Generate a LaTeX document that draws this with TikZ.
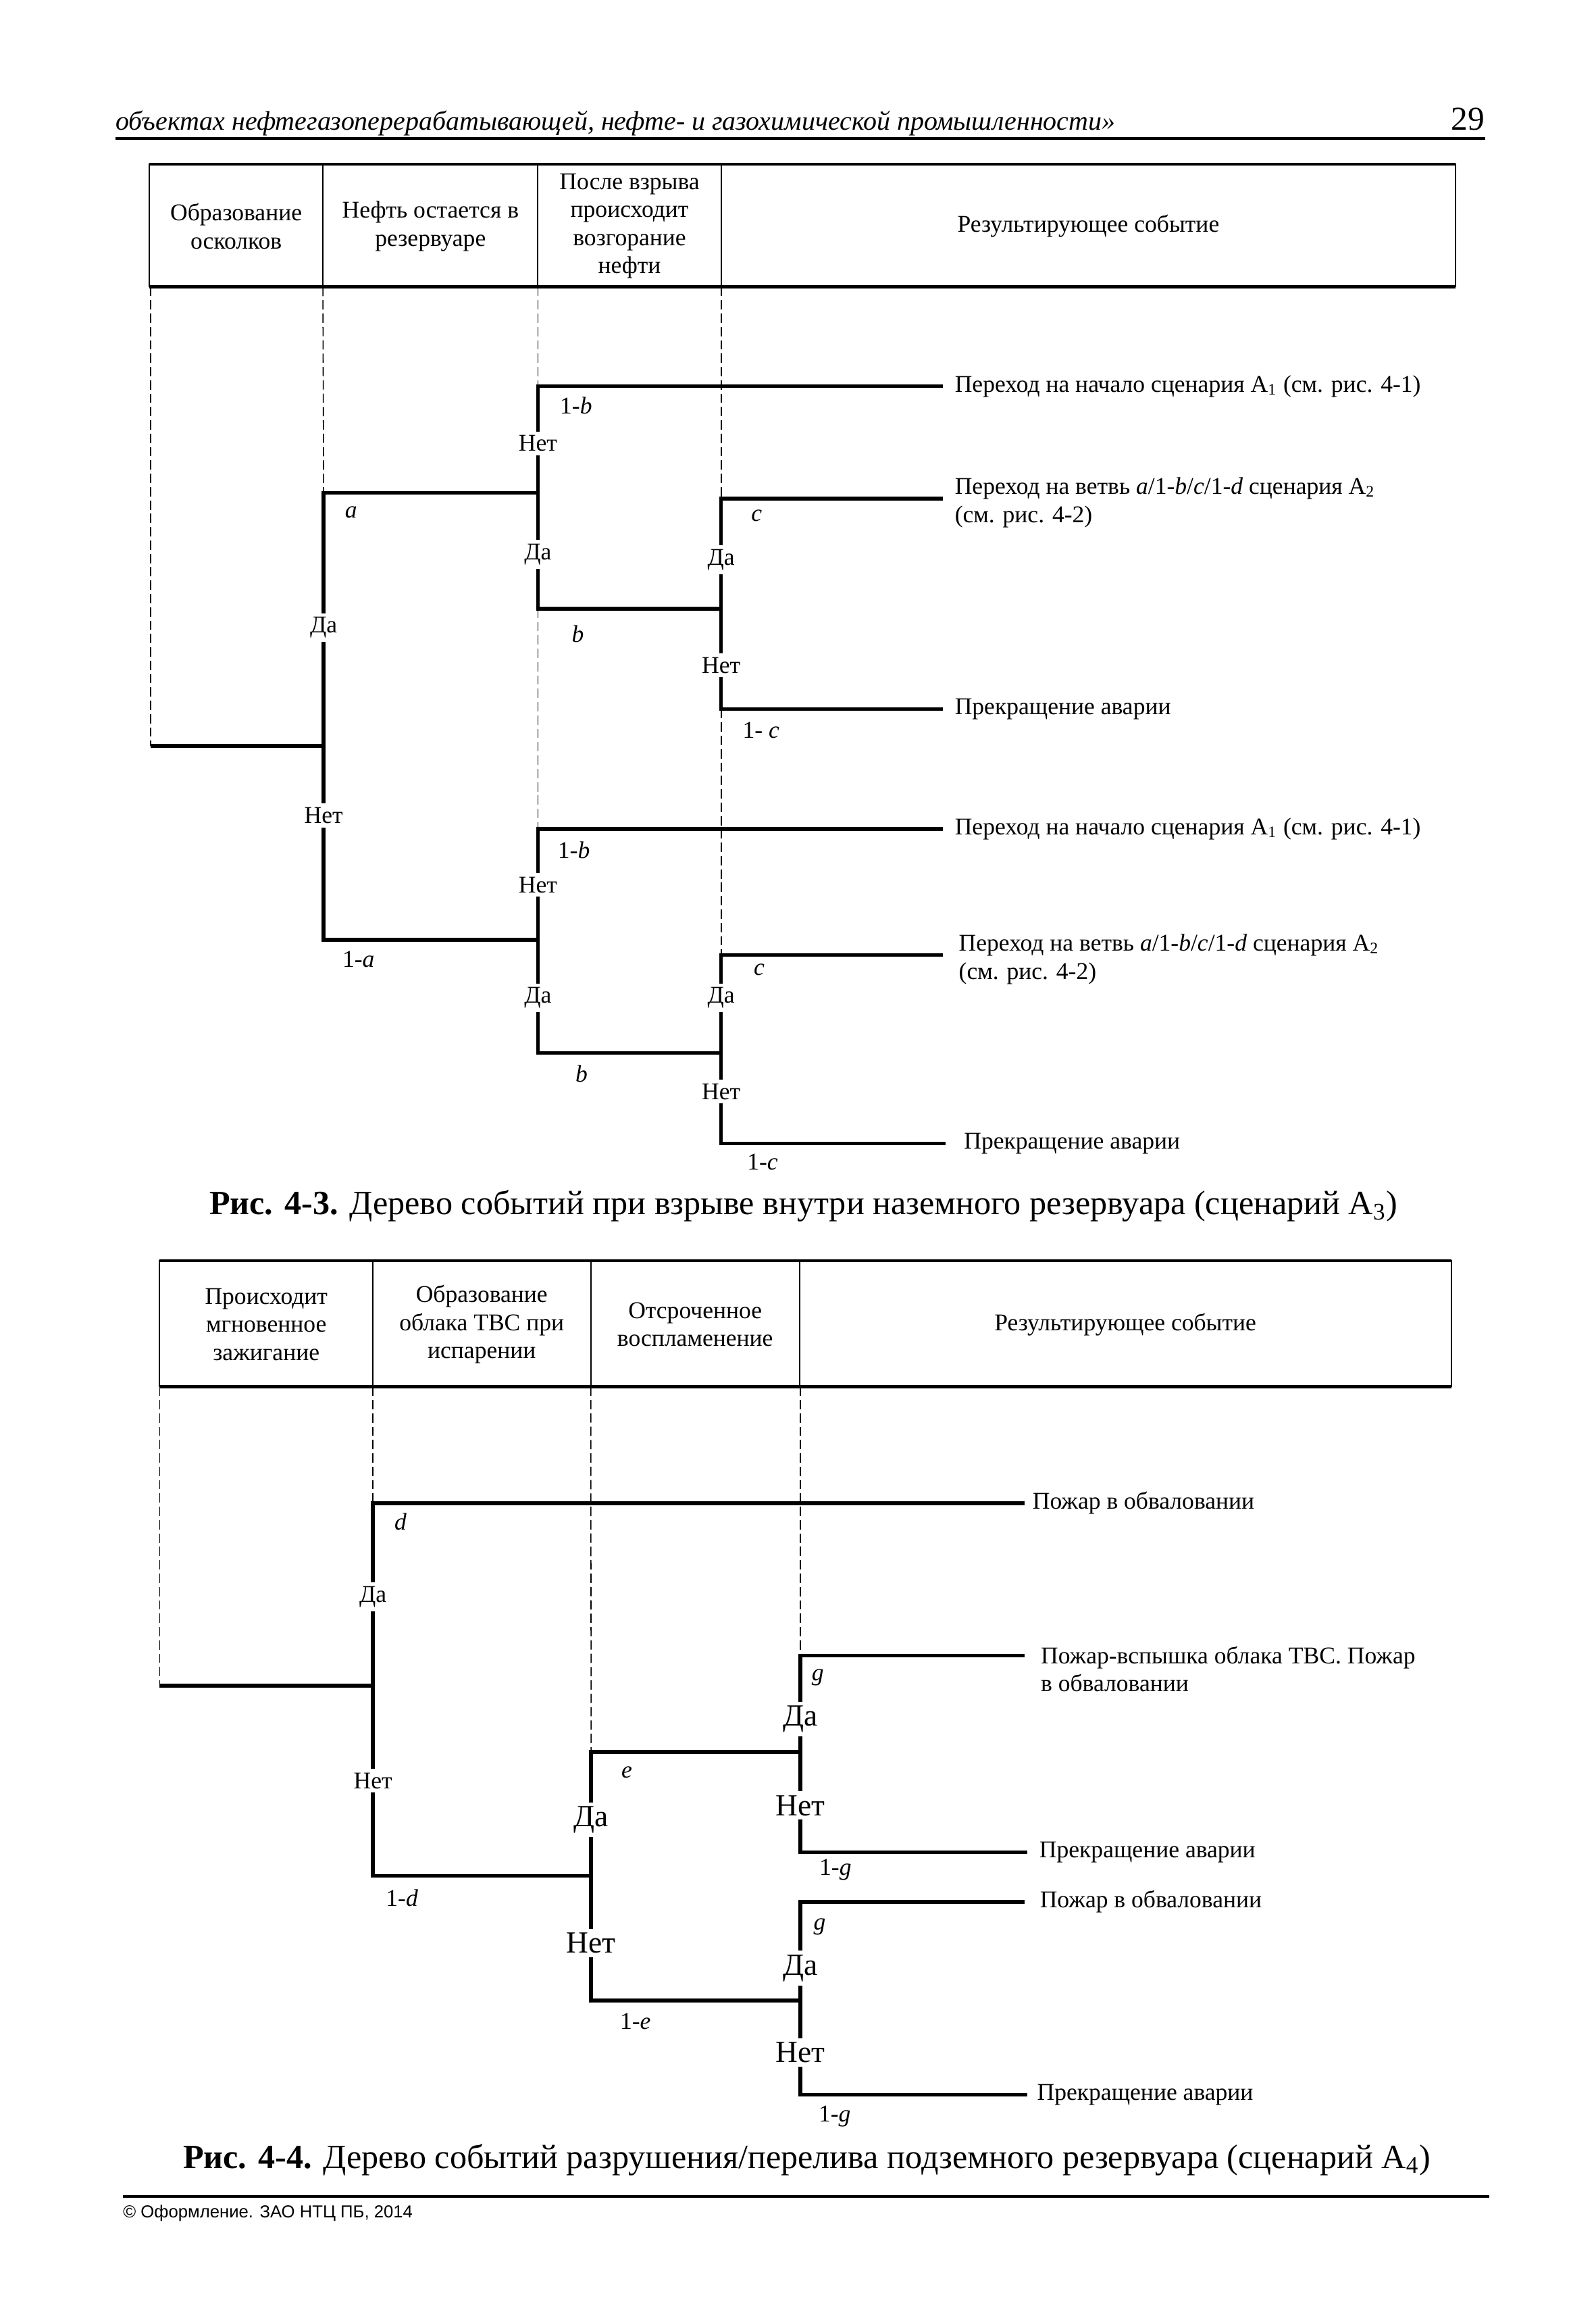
\documentclass[tikz,border=0pt]{standalone}
\usepackage{fontspec}
\setmainfont{Liberation Serif}
\newfontfamily\footsans{Liberation Sans}
\begin{document}
\begin{tikzpicture}[x=0.019452cm, y=-0.019452cm,
    branch/.style={line width=1.4pt},
    guide/.style={line width=0.4pt, dash pattern=on 3.5pt off 1.5pt},
    frame/.style={line width=0.5pt},
    hd/.style={align=center, font=\fontsize{9}{10.5}\selectfont, inner sep=0pt},
    yn/.style={fill=white, inner sep=1.5pt, font=\fontsize{9}{10}\selectfont},
    bigyn/.style={fill=white, inner sep=1.5pt, font=\fontsize{11.5}{13}\selectfont},
    pr/.style={inner sep=0pt, font=\fontsize{9}{10}\selectfont},
    outc/.style={anchor=west, align=left, inner sep=0pt, font=\fontsize{9}{10.5}\selectfont},
    capt/.style={inner sep=0pt, font=\fontsize{12.7}{14}\selectfont}]
    \useasboundingbox (0,0) rectangle (1080,1565.4);
    \node[anchor=base west, inner sep=0pt, font=\fontsize{10.1}{12}\selectfont\itshape] (hdr) at (78,88) {объектах нефтегазоперерабатывающей, нефте- и газохимической промышленности»};
    \node[anchor=base east, inner sep=0pt, font=\fontsize{12.5}{14}\selectfont] (pg) at (1005,88) {29};
    \coordinate (hl) at (78,93.7);
    \coordinate (hr) at (1005,93.7);
    \draw[line width=1pt] (hl) -- (hr);
    \draw[frame] (101,111) rectangle (985,194);
    \draw[line width=1pt] (101,111) -- (985,111);
    \draw[line width=1.2pt] (101,194) -- (985,194);
    \foreach \x in {218.5,364,488} \draw[frame] (\x,111) -- (\x,194);
    \node[hd] (h1) at (159.8,153) {Образование\\осколков};
    \node[hd] (h2) at (291.3,153) {Нефть остается в\\резервуаре};
    \node[hd] (h3) at (426,153) {После взрыва\\происходит\\возгорание\\нефти};
    \node[hd] (h4) at (736.5,153) {Результирующее событие};
    \coordinate (t1a) at (102,194);
    \coordinate (t1b) at (218.5,194);
    \coordinate (t1c) at (364,194);
    \coordinate (t1d) at (488,194);
    \coordinate (s0) at (102,504.6);
    \coordinate (s1) at (219,504.6);
    \coordinate (s1y) at (219,333.4);
    \coordinate (s1n) at (219,635.8);
    \coordinate (ka) at (364,333.4);
    \coordinate (ka1) at (364,261.3);
    \coordinate (ka2) at (364,411.7);
    \coordinate (kc) at (488,411.7);
    \coordinate (kc1) at (488,337.4);
    \coordinate (kc2) at (488,479.7);
    \coordinate (e1) at (638,261.3);
    \coordinate (e2) at (638,337.4);
    \coordinate (e3) at (638,479.7);
    \coordinate (kb) at (364,635.8);
    \coordinate (kb1) at (364,560.9);
    \coordinate (kb2) at (364,712.3);
    \coordinate (kd) at (488,712.3);
    \coordinate (kd1) at (488,646);
    \coordinate (kd2) at (488,773.5);
    \coordinate (e4) at (638,560.9);
    \coordinate (e5) at (638,646);
    \coordinate (e6) at (640,773.5);
    \draw[guide] (t1a) -- (s0);
    \draw[guide] (t1b) -- (s1y);
    \draw[guide] (t1c) -- (ka1);
    \draw[guide] (ka2) -- (kb1);
    \draw[guide] (t1d) -- (kc1);
    \draw[guide] (kc2) -- (kd1);
    \draw[branch] (s0) -- (s1);
    \draw[branch] (ka) -- (s1y) -- (s1n) -- (kb);
    \draw[branch] (e1) -- (ka1) -- (ka2) -- (kc);
    \draw[branch] (e2) -- (kc1) -- (kc2) -- (e3);
    \draw[branch] (e4) -- (kb1) -- (kb2) -- (kd);
    \draw[branch] (e5) -- (kd1) -- (kd2) -- (e6);
    \node[yn] (y1) at (219,424.6) {Да};
    \node[yn] (n1) at (219,551.7) {Нет};
    \node[yn] (n2) at (364,300) {Нет};
    \node[yn] (y2) at (364,375) {Да};
    \node[yn] (y3) at (488,378.7) {Да};
    \node[yn] (n3) at (488,450) {Нет};
    \node[yn] (n4) at (364,598.6) {Нет};
    \node[yn] (y4) at (364,675.1) {Да};
    \node[yn] (y5) at (488,675.1) {Да};
    \node[yn] (n5) at (488,738.4) {Нет};
    \node[pr] (pa) at (237.6,346.4) {\textit{a}};
    \node[pr] (pna) at (242.6,649.2) {1-\textit{a}};
    \node[pr] (pnb1) at (389.8,274.6) {1-\textit{b}};
    \node[pr] (pb1) at (391,428.7) {\textit{b}};
    \node[pr] (pc1) at (512,348.7) {\textit{c}};
    \node[pr] (pnc1) at (515,494) {1- \textit{c}};
    \node[pr] (pnb2) at (388.3,575.2) {1-\textit{b}};
    \node[pr] (pb2) at (393.5,726.2) {\textit{b}};
    \node[pr] (pc2) at (513.7,655.8) {\textit{c}};
    \node[pr] (pnc2) at (516,786.3) {1-\textit{c}};
    \node[outc] (o1) at (645.8,261.3) {Переход на начало сценария А\textsubscript{1} (см. рис. 4-1)};
    \node[outc] (o2) at (645.8,340) {Переход на ветвь \textit{a}/1-\textit{b}/\textit{c}/1-\textit{d} сценария А\textsubscript{2}\\(см. рис. 4-2)};
    \node[outc] (o3) at (645.8,479.7) {Прекращение аварии};
    \node[outc] (o4) at (645.8,560.9) {Переход на начало сценария А\textsubscript{1} (см. рис. 4-1)};
    \node[outc] (o5) at (648.5,649) {Переход на ветвь \textit{a}/1-\textit{b}/\textit{c}/1-\textit{d} сценария А\textsubscript{2}\\(см. рис. 4-2)};
    \node[outc] (o6) at (652,773.5) {Прекращение аварии};
    \node[capt] (cap1) at (543.8,816) {\textbf{Рис. 4-3.} Дерево событий при взрыве внутри наземного резервуара (сценарий А\textsubscript{3})};
    \draw[frame] (108,853) rectangle (982,938);
    \draw[line width=1pt] (108,853) -- (982,853);
    \draw[line width=1.2pt] (108,938) -- (982,938);
    \foreach \x in {252.3,399.8,541} \draw[frame] (\x,853) -- (\x,938);
    \node[hd] (g1) at (180.2,896) {Происходит\\мгновенное\\зажигание};
    \node[hd] (g2) at (326,896) {Образование\\облака ТВС при\\испарении};
    \node[hd] (g3) at (470.4,896) {Отсроченное\\воспламенение};
    \node[hd] (g4) at (761.5,896) {Результирующее событие};
    \coordinate (t2a) at (108,938);
    \coordinate (t2b) at (252.4,938);
    \coordinate (t2c) at (399.8,938);
    \coordinate (t2d) at (541.5,938);
    \coordinate (r0) at (108,1140.3);
    \coordinate (r1) at (252.4,1140.3);
    \coordinate (r1y) at (252.4,1016.9);
    \coordinate (r1n) at (252.4,1268.9);
    \coordinate (f1) at (693.5,1016.9);
    \coordinate (q1) at (400,1268.9);
    \coordinate (q1y) at (400,1185.2);
    \coordinate (q1n) at (400,1353.4);
    \coordinate (m1) at (541.5,1185.2);
    \coordinate (m1y) at (541.5,1120);
    \coordinate (m1n) at (541.5,1253);
    \coordinate (f2) at (693.5,1120);
    \coordinate (f3) at (695,1253);
    \coordinate (m2) at (541.5,1353.4);
    \coordinate (m2y) at (541.5,1286.5);
    \coordinate (m2n) at (541.5,1417.1);
    \coordinate (f4) at (693.5,1286.5);
    \coordinate (f5) at (695,1417.1);
    \draw[guide] (t2a) -- (r0);
    \draw[guide] (t2b) -- (r1y);
    \draw[guide] (t2c) -- (q1y);
    \draw[guide] (t2d) -- (m1y);
    \draw[branch] (r0) -- (r1);
    \draw[branch] (f1) -- (r1y) -- (r1n) -- (q1);
    \draw[branch] (m1) -- (q1y) -- (q1n) -- (m2);
    \draw[branch] (f2) -- (m1y) -- (m1n) -- (f3);
    \draw[branch] (f4) -- (m2y) -- (m2n) -- (f5);
    \node[yn] (y6) at (252.4,1080.2) {Да};
    \node[yn] (n6) at (252.4,1204.6) {Нет};
    \node[bigyn] (y7) at (400,1231.2) {Да};
    \node[bigyn] (n7) at (400,1314.6) {Нет};
    \node[bigyn] (y8) at (541.5,1162.8) {Да};
    \node[bigyn] (n8) at (541.5,1221.4) {Нет};
    \node[bigyn] (y9) at (541.5,1331.4) {Да};
    \node[bigyn] (n9) at (541.5,1388.3) {Нет};
    \node[pr] (pd) at (271,1029.2) {\textit{d}};
    \node[pr] (pnd) at (272,1284) {1-\textit{d}};
    \node[pr] (pe) at (424.2,1198.9) {\textit{e}};
    \node[pr] (pne) at (430,1367.5) {1-\textit{e}};
    \node[pr] (pg1) at (553.4,1134.8) {\textit{g}};
    \node[pr] (png1) at (565.3,1264.8) {1-\textit{g}};
    \node[pr] (pg2) at (554.6,1303.4) {\textit{g}};
    \node[pr] (png2) at (564.8,1431.6) {1-\textit{g}};
    \node[outc] (w1) at (698.4,1016.9) {Пожар в обваловании};
    \node[outc] (w2) at (704,1129) {Пожар-вспышка облака ТВС. Пожар\\в обваловании};
    \node[outc] (w3) at (703,1253) {Прекращение аварии};
    \node[outc] (w4) at (703.4,1286.5) {Пожар в обваловании};
    \node[outc] (w5) at (701.5,1417.1) {Прекращение аварии};
    \node[capt] (cap2) at (546,1461) {\textbf{Рис. 4-4.} Дерево событий разрушения/перелива подземного резервуара (сценарий А\textsubscript{4})};
    \coordinate (fl) at (83,1485.7);
    \coordinate (fr) at (1007.6,1485.7);
    \draw[line width=1pt] (fl) -- (fr);
    \node[anchor=west, inner sep=0pt, font=\footsans\fontsize{6.5}{7.5}\selectfont] (ft) at (83,1497) {© Оформление. ЗАО НТЦ ПБ, 2014};
\end{tikzpicture}
\end{document}
